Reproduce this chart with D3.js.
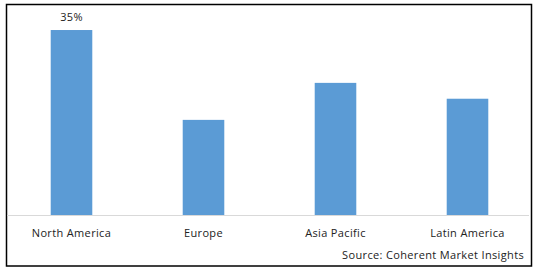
<!DOCTYPE html>
<html>
<head>
<meta charset="utf-8" />
<script src="https://cdn.jsdelivr.net/npm/d3@7"></script>
<style>
body { margin: 0; background: #fff; }
text { font-family: "Open Sans", sans-serif; fill: #222; letter-spacing: 0.35px; }
</style>
</head>
<body>
<div id="chart"></div>
<script>
var w = 538, h = 272;

var regions = ["North America", "Europe", "Asia Pacific", "Latin America"];
var shares = [35, 18, 25, 22];
var labels = ["35%", "", "", ""];

var svg = d3.select("#chart").append("svg")
    .attr("width", w).attr("height", h);

// outer frame
svg.append("rect")
    .attr("x", 6.5).attr("y", 4.5)
    .attr("width", 525).attr("height", 261.5)
    .attr("fill", "none")
    .attr("stroke", "#000")
    .attr("stroke-width", 1.5);

var x = d3.scaleBand()
    .domain(regions)
    .range([5.5, 533.5])
    .paddingInner(0.685)
    .paddingOuter(0.3425);

var y = d3.scaleLinear()
    .domain([0, 40])
    .range([215, 3.6]);

svg.selectAll("rect.bar")
    .data(regions).enter().append("rect")
    .attr("class", "bar")
    .attr("x", function(d) { return x(d); })
    .attr("width", x.bandwidth())
    .attr("y", function(d, i) { return y(shares[i]); })
    .attr("height", function(d, i) { return y(0) - y(shares[i]); })
    .attr("fill", "#5B9BD5");

// baseline
svg.append("line")
    .attr("x1", 7).attr("x2", 529)
    .attr("y1", y(0) + 0.5).attr("y2", y(0) + 0.5)
    .attr("stroke", "#d9d9d9")
    .attr("stroke-width", 1);

svg.selectAll("text.val")
    .data(regions).enter().append("text")
    .attr("class", "val")
    .attr("x", function(d) { return x(d) + x.bandwidth() / 2; })
    .attr("y", function(d, i) { return y(shares[i]) - 9; })
    .attr("text-anchor", "middle")
    .attr("font-size", "11px")
    .text(function(d, i) { return labels[i]; });

svg.selectAll("text.cat")
    .data(regions).enter().append("text")
    .attr("class", "cat")
    .attr("x", function(d) { return x(d) + x.bandwidth() / 2; })
    .attr("y", 237)
    .attr("text-anchor", "middle")
    .attr("font-size", "11px")
    .text(function(d) { return d; });

svg.append("text")
    .attr("x", 524).attr("y", 259)
    .attr("text-anchor", "end")
    .attr("font-size", "11px")
    .text("Source: Coherent Market Insights");
</script>
</body>
</html>
